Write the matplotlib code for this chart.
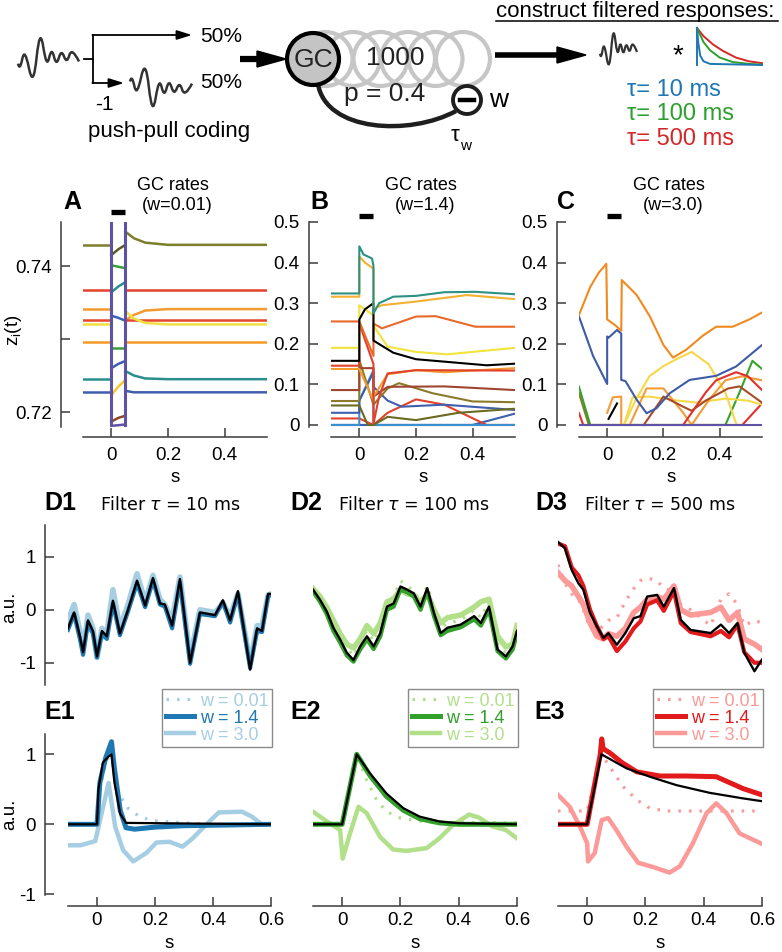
import numpy as np
import matplotlib
matplotlib.use("Agg")
import matplotlib.pyplot as plt
from matplotlib.patches import Circle, Polygon, PathPatch
from matplotlib.path import Path

# ---------------- data ----------------
# schematic wiggle (normalised time 0..1, value up = +)
WIGGLE_T = [0, .03, .11, .25, .36, .47, .55, .63, .71, .80, .88, 1.0]
WIGGLE_V = [-0.15, -0.4, 0.4, -1.0, 1.1, -0.33, 0.4, -0.25, 0.33, -0.17, 0.4, -0.08]
# filter kernels of the icon (normalised)
KER_BLUE_T = [0, 0.02, 0.05, 0.1, 0.2, 1.0]
KER_BLUE_V = [1, 0.6, 0.25, 0.1, 0.03, 0.0]
KER_GREEN_T = [0, 0.1, 0.2, 0.35, 0.55, 0.8, 1.0]
KER_GREEN_V = [1, 0.62, 0.4, 0.2, 0.08, 0.03, 0.01]
KER_RED_T = [0, 0.1, 0.25, 0.4, 0.6, 0.8, 1.0]
KER_RED_V = [1, 0.78, 0.55, 0.38, 0.2, 0.1, 0.05]
TAUS = ["10", "100", "500"]

# panel A (w=0.01): levels before, after the stimulus and during it
A_COLORS = ["#7b7f2c", "#e2412a", "#f29a2e", "#e5472a", "#f0e040", "#f59b25", "#2b8e8e", "#3f5fae"]
A_T_PRE = [-0.1, 0.0]
A_PRE = [0.7429, 0.7367, 0.7341, 0.7326, 0.7320, 0.7296, 0.7245, 0.7227]
A_T_POST = [0.05, 0.08, 0.12, 0.2, 0.55]
A_POST = [[0.7447, 0.7438, 0.7432, 0.7429, 0.7429],
          [0.7367, 0.7367, 0.7367, 0.7367, 0.7367],
          [0.7326, 0.7333, 0.7339, 0.7341, 0.7341],
          [0.7326, 0.7326, 0.7326, 0.7326, 0.7326],
          [0.7338, 0.7328, 0.7322, 0.7320, 0.7320],
          [0.7296, 0.7296, 0.7296, 0.7296, 0.7296],
          [0.7256, 0.7250, 0.7246, 0.7245, 0.7245],
          [0.7229, 0.7227, 0.7227, 0.7227, 0.7227]]
A_STIM_T = [0.0, 0.025, 0.05]
A_STIM_COLORS = ["#5e5a22", "#3aa03a", "#2b8e8e", "#3f5fae", "#3aa03a", "#3f5fae", "#f5c830", "#8b4a22", "#5d52a3"]
A_STIM = [[0.7415, 0.7423, 0.7429], [0.7401, 0.7399, 0.7397], [0.7364, 0.7372, 0.7378],
          [0.7332, 0.7329, 0.7325], [0.7288, 0.7288, 0.7288], [0.7260, 0.7266, 0.7270],
          [0.7223, 0.7235, 0.7244], [0.7187, 0.7192, 0.7195], [0.7181, 0.7182, 0.7183]]

# panel B (w=1.4)
B_TEAL = ([-0.1, 0, 0, 0.015, 0.045, 0.05, 0.05, 0.07, 0.12, 0.2, 0.3, 0.41, 0.55],
          [0.324, 0.324, 0.44, 0.42, 0.41, 0.392, 0.275, 0.30, 0.316, 0.318, 0.327, 0.328, 0.322])
B_GOLD = ([-0.1, 0, 0, 0.02, 0.05, 0.05, 0.08, 0.2, 0.38, 0.55],
          [0.316, 0.316, 0.415, 0.40, 0.385, 0.287, 0.295, 0.304, 0.32, 0.31])
B_BLACK = ([-0.1, 0, 0, 0.02, 0.05, 0.05, 0.08, 0.12, 0.2, 0.3, 0.45, 0.55],
           [0.158, 0.158, 0.26, 0.285, 0.30, 0.208, 0.195, 0.178, 0.162, 0.156, 0.147, 0.151])
B_ORANGE = ([-0.1, 0, 0.05, 0.05, 0.08, 0.2, 0.27, 0.41, 0.55],
            [0.255, 0.255, 0.17, 0.25, 0.238, 0.267, 0.268, 0.242, 0.242])
B_YELLOW = ([-0.1, 0, 0, 0.05, 0.05, 0.1, 0.2, 0.31, 0.55],
            [0.19, 0.19, 0.295, 0.27, 0.245, 0.193, 0.18, 0.174, 0.19])
B_RED = ([-0.1, 0, 0, 0.05, 0.05, 0.07, 0.1, 0.2, 0.55],
         [0.146, 0.146, 0.25, 0.15, 0.003, 0.07, 0.127, 0.135, 0.134])
B_ORANGE2 = ([-0.1, 0, 0.05, 0.05, 0.1, 0.2, 0.3, 0.55],
             [0.138, 0.138, 0.06, 0.07, 0.125, 0.135, 0.13, 0.14])
B_BROWN = ([-0.1, 0, 0, 0.05, 0.05, 0.1, 0.3, 0.55],
           [0.086, 0.086, 0.14, 0.14, 0.07, 0.094, 0.095, 0.086])
B_OLIVE = ([-0.1, 0, 0, 0.05, 0.1, 0.14, 0.26, 0.4, 0.55],
           [0.059, 0.059, 0.16, 0.05, 0.09, 0.103, 0.078, 0.058, 0.056])
B_DOLIVE = ([-0.1, 0, 0.03, 0.05, 0.1, 0.2, 0.35, 0.55],
            [0.048, 0.048, 0.0, 0.0, 0.02, 0.012, 0.03, 0.04])
B_BLUE = ([-0.1, 0, 0, 0.05, 0.05, 0.1, 0.15, 0.3, 0.55],
          [0.03, 0.03, 0.06, 0.13, 0.094, 0.06, 0.045, 0.05, 0.037])
B_LBLUE = ([-0.1, 0, 0, 0.05, 0.05, 0.55], [0.0, 0.0, 0.06, 0.135, 0.0, 0.0])
B_RED2 = ([-0.1, 0, 0.05, 0.1, 0.2, 0.3, 0.45, 0.55], [0.016, 0.016, 0.0, 0.03, 0.063, 0.05, 0.0, 0.0])
B_BLUE2 = ([-0.1, 0.4, 0.55], [0.0, 0.0, 0.028])
B_PURPLE = ([-0.1, 0.55], [0.0, 0.0])

# panel C (w=3.0)
C_ORANGE = ([-0.1, -0.06, -0.03, -0.003, 0, 0.03, 0.05, 0.052, 0.105, 0.152, 0.2, 0.234, 0.28, 0.34, 0.387, 0.446, 0.505, 0.55],
            [0.271, 0.34, 0.375, 0.397, 0.26, 0.245, 0.232, 0.357, 0.32, 0.267, 0.197, 0.166, 0.185, 0.22, 0.242, 0.242, 0.26, 0.277])
C_BLUE = ([-0.1, -0.05, 0, 0, 0.005, 0.035, 0.05, 0.05, 0.065, 0.105, 0.14, 0.175, 0.222, 0.293, 0.387, 0.458, 0.55],
          [0.267, 0.17, 0.101, 0.218, 0.215, 0.234, 0.225, 0.111, 0.108, 0.062, 0.029, 0.041, 0.078, 0.111, 0.121, 0.144, 0.197])
C_YELLOW = ([0.06, 0.1, 0.15, 0.2, 0.24, 0.3, 0.36, 0.42, 0.46], [0.0, 0.06, 0.12, 0.145, 0.16, 0.18, 0.15, 0.08, 0.0])
C_YELLOW2 = ([0.06, 0.09, 0.15, 0.25, 0.32, 0.42, 0.5, 0.55], [0.0, 0.068, 0.07, 0.06, 0.055, 0.065, 0.06, 0.05])
C_ORANGE2 = ([0.08, 0.14, 0.2, 0.27, 0.3, 0.36, 0.42, 0.48, 0.55], [0.0, 0.09, 0.09, 0.03, 0.0, 0.06, 0.11, 0.12, 0.11])
C_ORANGE3 = ([0.0, 0.02, 0.05, 0.05], [0.03, 0.068, 0.07, 0.0])
C_BROWN = ([0.13, 0.2, 0.27, 0.3, 0.35, 0.43, 0.47, 0.55], [0.0, 0.07, 0.045, 0.035, 0.06, 0.09, 0.095, 0.055])
C_RED = ([0.27, 0.35, 0.387, 0.458, 0.5, 0.55], [0.0, 0.08, 0.11, 0.13, 0.12, 0.086])
C_RED2 = ([-0.1, -0.085, 0.48, 0.55], [0.029, 0.0, 0.0, 0.053])
C_GREEN = ([-0.1, -0.06, 0.42, 0.47, 0.516, 0.55], [0.094, 0.0, 0.0, 0.08, 0.158, 0.138])
C_OLIVE = ([-0.1, -0.065], [0.078, 0.0])
C_BLACK = ([0.005, 0.035], [0.015, 0.053])
C_PURPLE = ([-0.1, 0.55], [0.0, 0.0])

# panels D (filtered output, reference in black)
D1_T = [-0.1, -0.079, -0.059, -0.048, -0.031, -0.014, 0.0, 0.017, 0.034, 0.055, 0.079, 0.107, 0.138, 0.166, 0.193,
        0.217, 0.234, 0.259, 0.286, 0.321, 0.355, 0.407, 0.434, 0.459, 0.486, 0.528, 0.552, 0.569, 0.59, 0.6]
D1_REF = [-0.35, -0.05, -0.5, -0.8, -0.2, -0.4, -0.88, -0.4, -0.5, 0.17, -0.45, 0.0, 0.55, 0.08, 0.6,
          0.12, 0.1, -0.3, 0.58, -1.0, -0.05, -0.1, 0.18, -0.2, 0.35, -1.13, -0.35, -0.4, 0.3, 0.3]
D1_W14 = [-0.38, -0.08, -0.55, -0.85, -0.24, -0.45, -0.9, -0.45, -0.55, 0.12, -0.48, -0.03, 0.5, 0.05, 0.55,
          0.1, 0.06, -0.35, 0.52, -1.02, -0.08, -0.12, 0.15, -0.24, 0.3, -1.1, -0.4, -0.42, 0.25, 0.28]
D1_W30 = [-0.2, 0.1, -0.4, -0.75, -0.1, -0.35, -0.9, -0.35, -0.45, 0.38, -0.35, 0.1, 0.68, 0.15, 0.65,
          0.2, 0.1, -0.2, 0.62, -0.9, 0.0, -0.05, 0.12, -0.12, 0.3, -1.0, -0.3, -0.3, 0.28, 0.3]
D1_W001 = [-0.3, -0.1, -0.5, -0.72, -0.3, -0.5, -0.95, -0.55, -0.45, 0.15, -0.4, 0.05, 0.5, 0.1, 0.55,
           0.15, 0.05, -0.25, 0.55, -0.95, -0.1, -0.1, 0.2, -0.15, 0.3, -1.05, -0.3, -0.35, 0.25, 0.3]

D2_T = [-0.1, -0.076, -0.053, -0.03, -0.007, 0.016, 0.039, 0.062, 0.085, 0.108, 0.131, 0.154, 0.177, 0.2, 0.223,
        0.246, 0.269, 0.292, 0.315, 0.338, 0.361, 0.407, 0.453, 0.476, 0.504, 0.533, 0.562, 0.585, 0.6]
D2_REF = [0.38, 0.19, -0.03, -0.34, -0.56, -0.81, -0.95, -0.69, -0.5, -0.69, -0.44, 0.06, 0.12, 0.44, 0.38,
          0.31, 0.06, 0.41, -0.06, -0.44, -0.34, -0.28, -0.12, -0.25, 0.06, -0.75, -0.88, -0.69, -0.4]
D2_W14 = [0.35, 0.15, -0.08, -0.4, -0.62, -0.86, -0.98, -0.75, -0.56, -0.74, -0.5, 0.0, 0.06, 0.38, 0.33,
          0.25, 0.0, 0.35, -0.12, -0.48, -0.4, -0.33, -0.18, -0.3, 0.0, -0.78, -0.92, -0.75, -0.45]
D2_W30 = [0.4, 0.25, 0.05, -0.2, -0.45, -0.65, -0.72, -0.55, -0.3, -0.45, -0.25, 0.15, 0.2, 0.38, 0.3,
          0.28, 0.12, 0.3, 0.0, -0.25, -0.15, -0.1, 0.05, 0.15, 0.2, -0.5, -0.7, -0.65, -0.3]
D2_W001 = [0.42, 0.2, -0.05, -0.3, -0.45, -0.7, -0.88, -0.6, -0.4, -0.6, -0.3, 0.15, 0.25, 0.55, 0.45,
           0.35, 0.15, 0.45, 0.05, -0.35, -0.25, -0.2, 0.0, -0.15, 0.15, -0.65, -0.8, -0.6, -0.3]

D3_T = [-0.1, -0.076, -0.053, -0.03, -0.013, 0.01, 0.033, 0.056, 0.073, 0.102, 0.131, 0.16, 0.183, 0.206,
        0.24, 0.263, 0.298, 0.321, 0.355, 0.424, 0.459, 0.487, 0.516, 0.539, 0.574, 0.6]
D3_REF = [1.28, 1.16, 0.75, 0.5, 0.38, -0.06, -0.31, -0.53, -0.44, -0.66, -0.44, -0.16, -0.12, 0.25,
          0.28, 0.06, 0.41, -0.19, -0.38, -0.44, -0.28, -0.44, -0.25, -0.81, -1.16, -0.94]
D3_W14 = [1.25, 1.2, 0.8, 0.65, 0.45, 0.0, -0.3, -0.55, -0.5, -0.78, -0.6, -0.35, -0.22, 0.1,
          0.18, -0.02, 0.35, -0.25, -0.42, -0.5, -0.4, -0.52, -0.28, -0.8, -1.0, -1.0]
D3_W30 = [0.7, 0.55, 0.45, 0.25, 0.1, -0.25, -0.5, -0.55, -0.45, -0.5, -0.35, -0.05, 0.05, 0.2,
          0.25, 0.2, 0.45, 0.0, -0.1, -0.05, 0.05, -0.2, -0.05, -0.55, -0.65, -0.75]
D3_W001 = [0.85, 0.5, 0.3, 0.2, 0.0, -0.35, -0.4, -0.3, -0.2, -0.15, 0.15, 0.4, 0.55, 0.6,
           0.55, 0.4, 0.35, 0.1, 0.0, -0.3, 0.2, 0.3, 0.1, -0.3, -0.2, -0.25]

# panels E (impulse responses)
E1_REF = ([-0.1, 0.0, 0.005, 0.02, 0.04, 0.05, 0.06, 0.08, 0.1, 0.6], [0.0, 0.0, 0.5, 0.88, 0.97, 1.0, 0.6, 0.15, 0.02, 0.0])
E1_W14 = ([-0.1, 0.0, 0.01, 0.03, 0.05, 0.06, 0.08, 0.1, 0.13, 0.2, 0.3, 0.6],
          [0.0, 0.0, 0.6, 0.95, 1.18, 0.8, 0.2, -0.05, -0.07, -0.04, -0.02, 0.0])
E1_W001 = ([-0.1, 0.0, 0.01, 0.03, 0.05, 0.07, 0.1, 0.15, 0.2, 0.3, 0.4, 0.6],
           [0.0, 0.0, 0.5, 0.9, 1.0, 0.5, 0.25, 0.1, 0.05, 0.02, 0.0, 0.0])
E1_W30 = ([-0.1, -0.057, -0.006, 0.04, 0.0625, 0.09, 0.125, 0.17, 0.205, 0.25, 0.295, 0.33, 0.375, 0.42, 0.5, 0.534, 0.568, 0.6],
          [-0.3, -0.3, -0.24, 0.59, -0.03, -0.37, -0.53, -0.41, -0.26, -0.25, -0.32, -0.2, -0.01, 0.17, 0.18, 0.11, 0.0, 0.0])
E2_REF = ([-0.1, 0.0, 0.05, 0.095, 0.152, 0.21, 0.266, 0.334, 0.4, 0.6], [0, 0, 1.0, 0.73, 0.44, 0.23, 0.11, 0.04, 0.015, 0.0])
E2_W14 = ([-0.1, 0.0, 0.05, 0.095, 0.152, 0.21, 0.266, 0.334, 0.4, 0.6], [0, 0, 1.0, 0.7, 0.4, 0.2, 0.08, 0.02, 0.0, 0.0])
E2_W001 = ([-0.1, 0, 0.05, 0.084, 0.118, 0.152, 0.2, 0.24, 0.3, 0.6], [0, 0, 1.0, 0.63, 0.35, 0.18, 0.09, 0.06, 0.03, 0.02])
E2_W30 = ([-0.1, -0.052, -0.007, 0.002, 0.027, 0.056, 0.084, 0.13, 0.175, 0.22, 0.29, 0.334, 0.38, 0.436, 0.47, 0.516, 0.561, 0.6],
          [0.18, 0.04, -0.08, -0.49, -0.13, 0.25, 0.16, -0.18, -0.36, -0.38, -0.34, -0.2, -0.01, 0.14, 0.095, -0.03, -0.08, -0.2])
E3_REF = ([-0.1, 0.0, 0.049, 0.135, 0.215, 0.306, 0.42, 0.535, 0.6], [0, 0, 1.0, 0.8, 0.68, 0.56, 0.45, 0.37, 0.33])
E3_W14 = ([-0.1, 0.0, 0.045, 0.05, 0.055, 0.078, 0.12, 0.17, 0.25, 0.34, 0.443, 0.535, 0.6],
          [0, 0, 1.0, 1.22, 1.08, 1.02, 0.88, 0.75, 0.69, 0.69, 0.68, 0.51, 0.42])
E3_W001 = ([-0.1, 0.0, 0.05, 0.078, 0.123, 0.17, 0.215, 0.27, 0.6], [0.19, 0.19, 1.0, 0.82, 0.54, 0.35, 0.23, 0.19, 0.19])
E3_W30 = ([-0.1, -0.06, -0.025, 0.0, 0.003, 0.026, 0.05, 0.072, 0.1, 0.135, 0.175, 0.226, 0.283, 0.318, 0.363, 0.41, 0.443, 0.478, 0.523, 0.6],
          [0.42, 0.25, -0.03, -0.27, -0.53, -0.41, 0.06, 0.09, -0.08, -0.32, -0.55, -0.61, -0.69, -0.6, -0.27, 0.16, 0.3, 0.16, -0.13, -0.28])

W_LABELS = ["w = 0.01", "w = 1.4", "w = 3.0"]
LIGHT = ["#a6cee3", "#b2df8a", "#fb9a99"]
DARK = ["#1f78b4", "#33a02c", "#e31a1c"]

# ---------------- figure ----------------
W, H = 782, 952
fig = plt.figure(figsize=(W / 100, H / 100), dpi=100)
plt.rcParams['font.family'] = ['Liberation Sans', 'DejaVu Sans']
SP = '#3a3a3a'
FS = 13.5


def px_axes(x0, y0, x1, y1):
    return fig.add_axes([x0 / W, 1 - y1 / H, (x1 - x0) / W, (y1 - y0) / H])


def ftext(x, y, s, **kw):
    kw.setdefault('ha', 'center')
    kw.setdefault('va', 'center')
    fig.text(x / W, 1 - y / H, s, **kw)


def style(ax, xlim, ylim, yticks=None, ylabels=None, xticks=None, yout=16, xout=7.5, xpad=7):
    ax.set_xlim(xlim)
    ax.set_ylim(ylim)
    ax.patch.set_visible(False)
    ax.spines['top'].set_visible(False)
    ax.spines['right'].set_visible(False)
    for s in ['left', 'bottom']:
        ax.spines[s].set_color(SP)
        ax.spines[s].set_linewidth(1.1)
    if yticks is None:
        ax.spines['left'].set_visible(False)
        ax.set_yticks([])
    else:
        ax.spines['left'].set_position(('outward', yout))
        ax.set_yticks(yticks)
        ax.set_yticklabels(ylabels)
    if xticks is None:
        ax.spines['bottom'].set_visible(False)
        ax.set_xticks([])
    else:
        ax.spines['bottom'].set_position(('outward', xout))
        ax.set_xticks(xticks)
        ax.set_xticklabels(['0' if v == 0 else f'{v:.1f}' for v in xticks])
    ax.tick_params(direction='in', length=6.5, width=1.1, color=SP, labelsize=FS)
    ax.tick_params(axis='y', pad=6.5)
    ax.tick_params(axis='x', pad=xpad)


def smooth_wiggle(ax, x0, width, yc, amp, sign=1, lw=1.8):
    # draw the wiggle through quadratic curve segments so the peaks are rounded
    pts = [(x0 + t * width, yc - sign * amp * v) for t, v in zip(WIGGLE_T, WIGGLE_V)]
    verts = [pts[0]]
    codes = [Path.MOVETO]
    for i in range(1, len(pts) - 1):
        mid = ((pts[i][0] + pts[i + 1][0]) / 2, (pts[i][1] + pts[i + 1][1]) / 2)
        if i == len(pts) - 2:
            mid = pts[-1]
        verts += [pts[i], mid]
        codes += [Path.CURVE3, Path.CURVE3]
    ax.add_patch(PathPatch(Path(verts, codes), fill=False, ec='#333333', lw=lw, joinstyle='round'))


# ---------------- top schematic ----------------
top = fig.add_axes([0, 0, 1, 1])
top.set_xlim(0, W)
top.set_ylim(H, 0)
top.axis('off')

smooth_wiggle(top, 18, 61, 59, 31)
smooth_wiggle(top, 130, 62, 86, 30, sign=-1)
smooth_wiggle(top, 600, 37, 50, 25, lw=1.6)
top.plot([84, 93], [59, 59], color='k', lw=1.3)
top.plot([93, 93], [35, 83], color='k', lw=1.3)
top.annotate('', xy=(192, 35), xytext=(92.4, 35),
             arrowprops=dict(arrowstyle='-|>,head_length=0.9,head_width=0.28', color='k', lw=1.3, shrinkA=0, shrinkB=0))
top.annotate('', xy=(124, 83), xytext=(92.4, 83),
             arrowprops=dict(arrowstyle='-|>,head_length=0.9,head_width=0.28', color='k', lw=1.3, shrinkA=0, shrinkB=0))
ftext(200, 36, '50%', ha='left', fontsize=15)
ftext(200, 83, '50%', ha='left', fontsize=15)
ftext(104, 104, '-1', fontsize=15)
ftext(169, 131, 'push-pull coding', fontsize=16)

# input arrow
top.plot([240, 260], [59, 59], color='k', lw=4.5, solid_capstyle='butt')
top.add_patch(Polygon([[257, 51], [286, 59], [257, 67]], closed=True, color='k'))

# population of GCs
for cx in [325.5, 353, 380.5, 408, 435.5, 463]:
    top.add_patch(Circle((cx, 59), 27, fill=False, ec='#c6c6c6', lw=3.0, zorder=1))
fb = Path([(318, 84), (326, 132), (410, 136), (456, 111)],
          [Path.MOVETO, Path.CURVE4, Path.CURVE4, Path.CURVE4])
top.add_patch(PathPatch(fb, fill=False, ec='#1e1e1e', lw=3.2, zorder=2))
top.add_patch(Circle((313, 59), 26, fc='#c4c4c4', ec='k', lw=3.0, zorder=3))
top.text(313, 60, 'GC', ha='center', va='center', fontsize=19, color='#222222', zorder=4)
top.text(395, 58, '1000', ha='center', va='center', fontsize=19, color='#222222', zorder=4)
top.text(385, 94, 'p = 0.4', ha='center', va='center', fontsize=19, color='#222222', zorder=4)
top.add_patch(Circle((467, 100), 14, fc='white', ec='#1e1e1e', lw=2.8, zorder=4))
top.plot([460, 474], [100, 100], color='k', lw=3.2, zorder=5)
ftext(499, 100, 'w', fontsize=19)
ftext(455, 136, '\u03c4', fontsize=16)
ftext(466, 146, 'w', fontsize=11)

# output arrow
top.plot([495, 560], [55, 55], color='k', lw=4.0, solid_capstyle='butt')
top.add_patch(Polygon([[557, 47], [586, 55], [557, 63]], closed=True, color='k'))

ftext(496, 12, 'construct filtered responses:', ha='left', fontsize=16)
top.plot([496, 778], [21, 21], color='k', lw=1.1)
ftext(678, 56, '*', fontsize=20)

for kt, kv, c in [(KER_RED_T, KER_RED_V, '#d62728'), (KER_GREEN_T, KER_GREEN_V, '#2ca02c'),
                  (KER_BLUE_T, KER_BLUE_V, '#1f77b4')]:
    top.plot(697 + np.array(kt) * 65, 65 - np.array(kv) * 37, color=c, lw=1.4)
top.plot([697, 697], [28, 65], color='#1f77b4', lw=1.4)
for i, (tau, c) in enumerate(zip(TAUS, ['#1f77b4', '#2ca02c', '#d62728'])):
    ftext(627, 90 + 24.5 * i, '\u03c4= ' + tau + ' ms', ha='left', fontsize=17, color=c)

# ---------------- panels A, B, C ----------------
XTK = [0, 0.2, 0.4]
axA = px_axes(83, 222, 267, 427)
style(axA, (-0.1, 0.55), (0.71795, 0.74603), [0.72, 0.73, 0.74], ['0.72', '', '0.74'], XTK)
for c, pre, post in zip(A_COLORS, A_PRE, A_POST):
    axA.plot(A_T_PRE, [pre, pre], color=c, lw=1.8)
    axA.plot(A_T_POST, post, color=c, lw=1.8)
for c, seg in zip(A_STIM_COLORS, A_STIM):
    axA.plot(A_STIM_T, seg, color=c, lw=1.8)
axA.plot([0, 0, 0.05, 0.05], [0.70, 0.76, 0.76, 0.70], color='#5d52a3', lw=2.2)

axB = px_axes(331, 222, 515, 427)
style(axB, (-0.1, 0.55), (-0.005, 0.5), [0, 0.1, 0.2, 0.3, 0.4, 0.5], ['0', '0.1', '0.2', '0.3', '0.4', '0.5'], XTK)
for tr, c in [(B_PURPLE, '#5d52a3'), (B_BLUE2, '#3f5fae'), (B_RED2, '#e2412a'), (B_LBLUE, '#3a8fcf'),
              (B_BLUE, '#3f5fae'), (B_DOLIVE, '#6a6a22'), (B_OLIVE, '#8a7a2a'), (B_BROWN, '#a04530'),
              (B_ORANGE2, '#f39c2d'), (B_RED, '#e2412a'), (B_YELLOW, '#f2e43a'), (B_ORANGE, '#e8692a'),
              (B_BLACK, 'k'), (B_GOLD, '#f4b030'), (B_TEAL, '#2b9183')]:
    axB.plot(tr[0], tr[1], color=c, lw=1.5)

axC = px_axes(579, 222, 762, 427)
style(axC, (-0.1, 0.55), (-0.005, 0.5), [0, 0.1, 0.2, 0.3, 0.4, 0.5], ['0', '0.1', '0.2', '0.3', '0.4', '0.5'], XTK)
for tr, c in [(C_OLIVE, '#8a7a2a'), (C_GREEN, '#35a32c'), (C_RED2, '#e0322a'), (C_YELLOW2, '#f6d84a'),
              (C_YELLOW, '#f6d84a'), (C_ORANGE2, '#f29b38'), (C_BROWN, '#a64a2a'), (C_RED, '#e0322a'),
              (C_ORANGE3, '#f29b38'), (C_BLACK, 'k'), (C_PURPLE, '#5d52a3'), (C_BLUE, '#3e5ba6'),
              (C_ORANGE, '#f08a1e')]:
    axC.plot(tr[0], tr[1], color=c, lw=1.5)

for ax, yb in [(axA, 1.049), (axB, 1.03), (axC, 1.03)]:
    ax.plot([0, 0.05], [yb, yb], color='k', lw=3.8, solid_capstyle='butt',
            transform=ax.get_xaxis_transform(), clip_on=False)

for x, t1 in [(175, '(w=0.01)'), (423, '(w=1.4)'), (671, '(w=3.0)')]:
    ftext(x - 2, 186, 'GC rates', fontsize=13)
    ftext(x + 2, 205, t1, fontsize=13)
    ftext(x, 477, 's', fontsize=FS)
ftext(72, 202, 'A', fontsize=18, fontweight='bold')
ftext(319, 202, 'B', fontsize=18, fontweight='bold')
ftext(566, 202, 'C', fontsize=18, fontweight='bold')
ftext(14, 330, r'$\mathregular{z_i(t)}$', fontsize=FS, rotation=90)

# ---------------- panels D ----------------
D_SETS = [(D1_T, D1_REF, D1_W14, D1_W30, D1_W001), (D2_T, D2_REF, D2_W14, D2_W30, D2_W001),
          (D3_T, D3_REF, D3_W14, D3_W30, D3_W001)]
XCOLS = [(68, 271), (313, 517), (558, 762)]
for i, ((t, ref, w14, w30, w001), (x0, x1)) in enumerate(zip(D_SETS, XCOLS)):
    ax = px_axes(x0, 525, x1, 685)
    if i == 0:
        style(ax, (-0.1, 0.6), (-1.42, 1.6), [-1, 0, 1], ['-1', '0', '1'], None, yout=16.5)
    else:
        style(ax, (-0.1, 0.6), (-1.42, 1.6))
    ax.plot(t, w30, color=LIGHT[i], lw=4.0, solid_joinstyle='round')
    ax.plot(t, w001, color=LIGHT[i], lw=2.3, ls=(0, (0.8, 2.5)))
    ax.plot(t, w14, color=DARK[i], lw=3.0, solid_joinstyle='round')
    ax.plot(t, ref, color='k', lw=1.7, solid_joinstyle='round')

ftext(60, 503, 'D1', fontsize=18, fontweight='bold')
ftext(306, 503, 'D2', fontsize=18, fontweight='bold')
ftext(551, 503, 'D3', fontsize=18, fontweight='bold')
for x, tau in zip([170, 414, 660], TAUS):
    ftext(x, 505, r'Filter $\tau$ = ' + tau + ' ms', fontsize=12.5, family='DejaVu Sans')
ftext(10, 607, 'a.u.', fontsize=FS, rotation=90)

# ---------------- panels E ----------------
E_SETS = [(E1_REF, E1_W14, E1_W30, E1_W001), (E2_REF, E2_W14, E2_W30, E2_W001), (E3_REF, E3_W14, E3_W30, E3_W001)]
LEG_X = [162, 408, 653]
for i, ((ref, w14, w30, w001), (x0, x1)) in enumerate(zip(E_SETS, XCOLS)):
    ax = px_axes(x0, 734, x1, 895)
    xt = [0, 0.2, 0.4, 0.6]
    if i == 0:
        style(ax, (-0.1, 0.6), (-1.01, 1.29), [-1, 0, 1], ['-1', '0', '1'], xt, yout=16.5, xout=8, xpad=4)
    else:
        style(ax, (-0.1, 0.6), (-1.01, 1.29), None, None, xt, xout=8, xpad=4)
    l30, = ax.plot(w30[0], w30[1], color=LIGHT[i], lw=3.2, solid_joinstyle='round')
    l001, = ax.plot(w001[0], w001[1], color=LIGHT[i], lw=2.3, ls=(0, (0.8, 2.5)))
    l14, = ax.plot(w14[0], w14[1], color=DARK[i], lw=3.6, solid_joinstyle='round')
    ax.plot(ref[0], ref[1], color='k', lw=1.6)
    leg = ax.legend([l001, l14, l30], W_LABELS, loc='upper left',
                    bbox_to_anchor=(LEG_X[i] / W, 1 - 689 / H), bbox_transform=fig.transFigure,
                    borderaxespad=0, fontsize=13, handlelength=1.55, handletextpad=0.33,
                    labelspacing=0.0, borderpad=0.2, fancybox=False, framealpha=1,
                    edgecolor='#8a8a8a', labelcolor='linecolor')
    leg.get_frame().set_linewidth(1.0)
    ftext((x0 + x1) / 2, 943, 's', fontsize=FS)

ftext(60, 712, 'E1', fontsize=18, fontweight='bold')
ftext(306, 712, 'E2', fontsize=18, fontweight='bold')
ftext(550, 712, 'E3', fontsize=18, fontweight='bold')
ftext(10, 814, 'a.u.', fontsize=FS, rotation=90)

fig.savefig('out.png', dpi=100)
